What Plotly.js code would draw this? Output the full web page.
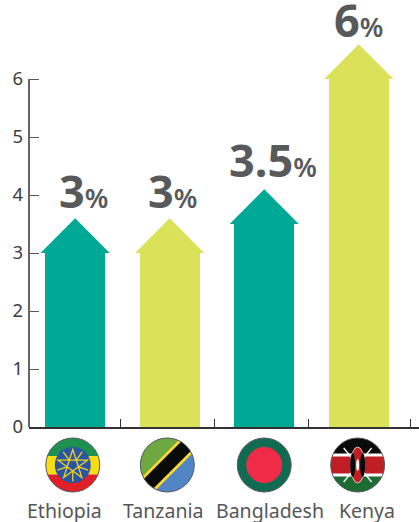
<!DOCTYPE html>
<html><head><meta charset="utf-8">
<script src="https://cdn.plot.ly/plotly-3.0.1.min.js"></script>
<style>html,body{margin:0;padding:0;background:#fff}#c{width:419px;height:522px}</style>
</head><body><div id="c"></div>
<script>
const categories = ["Ethiopia","Tanzania","Bangladesh","Kenya"];
const values = [3,3,3.5,6];
const valueLabels = ["3","3","3.5","6"];
const barColors = ["#00A896","#DBE25A","#00A896","#DBE25A"];
const labelShift = [8,3,9,0];
const labelLift = [-5,-5,-3,-8];
const catShift = [-10.5,-7,5.5,8];
const flagShift = [-0.025,-0.025,0,-0.012];
const separatorTicks = [0.475,1.472,2.472,3.548];
const yTicks = [0,1,2,3,4,5,6];

const headHalf = 0.366, headRise = 0.6;
const xRange = [-0.488,3.637];
const yRange = [0,7.362];
const positions = categories.map((_,i)=>i);

function flag(inner){
  return "data:image/svg+xml;utf8," + encodeURIComponent(
   `<svg xmlns="http://www.w3.org/2000/svg" width="112" height="112" viewBox="0 0 112 112"><defs><clipPath id="k"><circle cx="56" cy="56" r="54"/></clipPath></defs><g clip-path="url(#k)">${inner}</g><circle cx="56" cy="56" r="54" fill="none" stroke="#58595B" stroke-width="2"/></svg>`);
}
function star(cx,cy,r,c,w){
  let p=[];for(let i=0;i<5;i++){const a=-Math.PI/2+i*4*Math.PI/5;p.push((cx+r*Math.cos(a)).toFixed(1)+","+(cy+r*Math.sin(a)).toFixed(1));}
  let rays="";for(let i=0;i<5;i++){const a=Math.PI/2+i*2*Math.PI/5;rays+=`<line x1="${cx+r*.35*Math.cos(a)}" y1="${cy+r*.35*Math.sin(a)}" x2="${cx+r*1.05*Math.cos(a)}" y2="${cy+r*1.05*Math.sin(a)}" stroke="${c}" stroke-width="${w}"/>`;}
  return `<polygon points="${p.join(" ")}" fill="none" stroke="${c}" stroke-width="${w}"/>`+rays;
}
const flags = [
 flag(`<rect width="112" height="38" fill="#1E9150"/><rect y="38" width="112" height="37" fill="#F8DE10"/><rect y="75" width="112" height="37" fill="#E01F26"/><circle cx="56" cy="56" r="36" fill="#2A55A4"/>${star(56,56,31,"#F2D41F",2.6)}`),
 flag(`<rect width="112" height="112" fill="#5185C5"/><polygon points="0,0 112,0 0,112" fill="#6EA842"/><line x1="-5" y1="117" x2="117" y2="-5" stroke="#FBD92F" stroke-width="38"/><line x1="-5" y1="117" x2="117" y2="-5" stroke="#0A0A0A" stroke-width="27"/>`),
 flag(`<rect width="112" height="112" fill="#116B53"/><circle cx="56" cy="56" r="36" fill="#EF2B47"/>`),
 flag(`<rect width="112" height="37" fill="#0A0A0A"/><rect y="37" width="112" height="38" fill="#BE1E24"/><rect y="75" width="112" height="37" fill="#1B6B33"/><rect y="33" width="112" height="6" fill="#fff"/><rect y="73" width="112" height="6" fill="#fff"/><line x1="28" y1="22" x2="84" y2="90" stroke="#fff" stroke-width="2.5"/><line x1="84" y1="22" x2="28" y2="90" stroke="#fff" stroke-width="2.5"/><ellipse cx="56" cy="56" rx="14" ry="36" fill="#BE1E24" stroke="#fff" stroke-width="1.5"/><ellipse cx="46" cy="56" rx="5" ry="24" fill="#0A0A0A"/><ellipse cx="66" cy="56" rx="5" ry="24" fill="#0A0A0A"/><ellipse cx="56" cy="56" rx="3" ry="12" fill="#fff"/>`)
];

const bars = {type:"bar",x:positions,y:values,width:0.634,marker:{color:barColors,line:{width:0}},hoverinfo:"skip",showlegend:false};
const heads = values.map((v,i)=>({
  type:"scatter",mode:"lines",fill:"toself",cliponaxis:false,
  x:[i-headHalf,i,i+headHalf,i-headHalf],
  y:[v,v+headRise,v,v],
  fillcolor:barColors[i],line:{width:0,color:barColors[i]},hoverinfo:"skip",showlegend:false
}));

const valueAnn = values.map((v,i)=>({
  x:i,y:v+headRise,xref:"x",yref:"y",yanchor:"bottom",xanchor:"center",showarrow:false,
  xshift:labelShift[i],yshift:labelLift[i],
  text:`<b>${valueLabels[i]}</b><span style="font-size:27px;font-weight:600">%</span>`,
  font:{family:"'Noto Sans',sans-serif",size:45,color:"#58595B"}
}));
const catAnn = categories.map((c,i)=>({
  x:i,y:0,xref:"x",yref:"paper",yanchor:"top",xanchor:"center",showarrow:false,yshift:-69,xshift:catShift[i],borderpad:0,
  text:c,font:{family:"'Noto Sans',sans-serif",size:19.5,color:"#55565A"}
}));
const xSpan = xRange[1]-xRange[0];
const images = flags.map((src,i)=>({
  source:src,xref:"paper",yref:"paper",
  x:(i+flagShift[i]-xRange[0])/xSpan,y:-38/427,sizex:56/390.5,sizey:56/427,
  xanchor:"center",yanchor:"middle",sizing:"stretch",layer:"above"
}));

Plotly.newPlot("c",[bars,...heads],{
  width:419,height:522,margin:{l:28.5,r:0,t:0,b:95},
  paper_bgcolor:"#fff",plot_bgcolor:"#fff",showlegend:false,
  bargap:0,
  xaxis:{range:xRange,tickmode:"array",tickvals:separatorTicks,ticktext:["","","",""],ticks:"inside",ticklen:8,tickwidth:1,tickcolor:"#333",
    showgrid:false,zeroline:false,showline:true,linecolor:"#333",linewidth:1.5,layer:"below traces",fixedrange:true},
  yaxis:{range:yRange,tickmode:"array",tickvals:yTicks,ticks:"inside",ticklen:10,tickwidth:1,tickcolor:"#58595B",ticklabelstandoff:5,
    showgrid:false,zeroline:false,showline:false,layer:"below traces",fixedrange:true,
    tickfont:{family:"'Noto Sans',sans-serif",size:18.5,color:"#3C3C3E"}},
  shapes:[{type:"line",xref:"paper",yref:"y",x0:0,x1:0,y0:0,y1:yTicks[yTicks.length-1],line:{color:"#333",width:1.5},layer:"below"}],
  annotations:[...valueAnn,...catAnn],
  images:images
},{displayModeBar:false,staticPlot:true});
</script></body></html>
